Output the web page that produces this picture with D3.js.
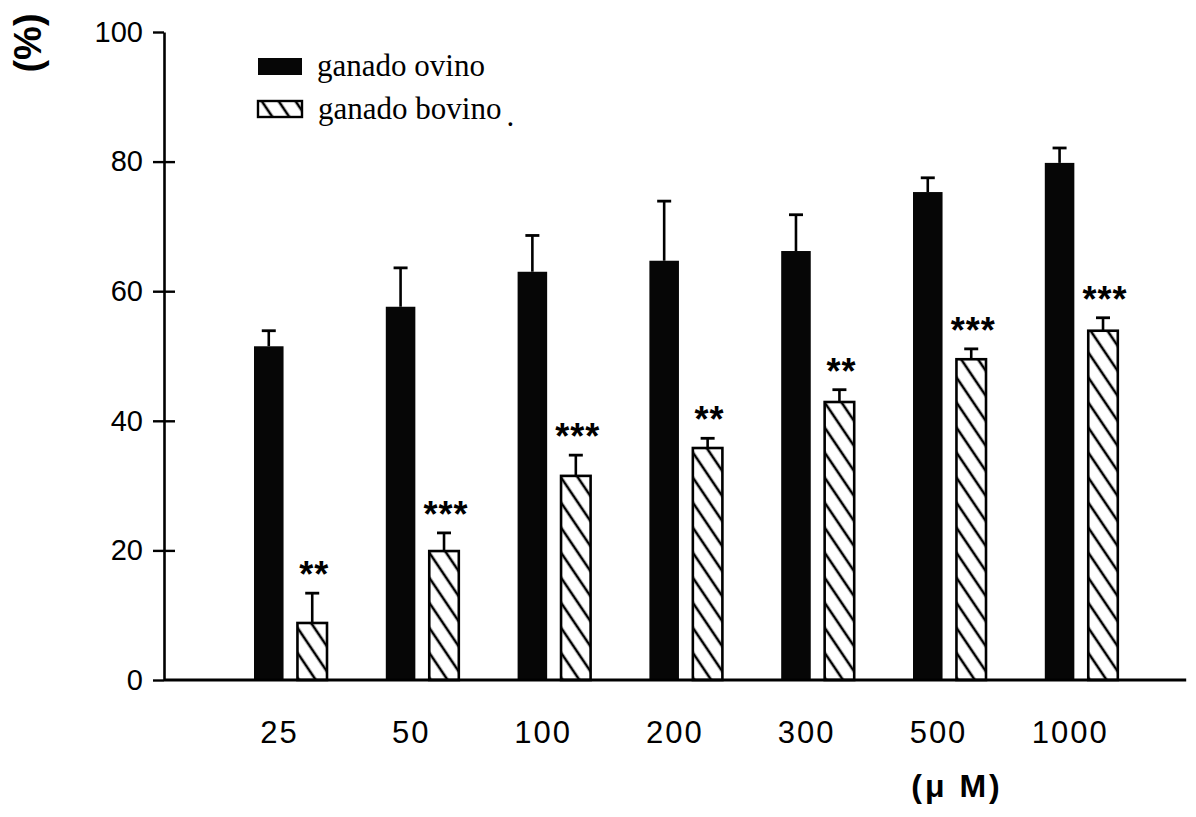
<!DOCTYPE html>
<html>
<head>
<meta charset="utf-8">
<script src="https://cdn.jsdelivr.net/npm/d3@7"></script>
<style>
  body { margin: 0; background: #fff; }
  svg { display: block; background: #fff; }
</style>
</head>
<body>
<svg id="chart" width="1196" height="817"></svg>
<script>
// Concentrations (µM) on the category axis
const concentrations = ["25", "50", "100", "200", "300", "500", "1000"];
// Mean response (%) and upper error for each series
const ovino = [51.5, 57.6, 63.0, 64.7, 66.2, 75.3, 79.8];
const ovinoErr = [2.4, 6.0, 5.6, 9.2, 5.6, 2.2, 2.3];
const bovino = [8.8, 19.9, 31.5, 35.8, 42.9, 49.5, 53.9];
const bovinoErr = [4.6, 2.8, 3.2, 1.5, 1.9, 1.6, 2.0];
// Significance marks above the bovine bars
const significance = ["**", "***", "***", "**", "**", "***", "***"];
const yTicks = [0, 20, 40, 60, 80, 100];
const seriesNames = ["ganado ovino", "ganado bovino"];

const svg = d3.select("#chart");
const axisX = 164;

const y = d3.scaleLinear().domain([0, 100]).range([680, 32]);
const x = d3.scaleBand().domain(concentrations).range([224.6, 1147.2]);
const inner = d3.scaleBand().domain(["ovino", "bovino"]).range([0, 73]).paddingInner(0.32);
const groupOffset = (x.bandwidth() - 73) / 2;

// hatch pattern for the bovine bars
const defs = svg.append("defs");
const pat = defs.append("pattern")
  .attr("id", "hatch")
  .attr("patternUnits", "userSpaceOnUse")
  .attr("width", 14).attr("height", 14)
  .attr("patternTransform", "rotate(-34)");
pat.append("rect").attr("width", 14).attr("height", 14).attr("fill", "#fff");
pat.append("line")
  .attr("x1", 7).attr("x2", 7).attr("y1", 0).attr("y2", 14)
  .attr("stroke", "#000").attr("stroke-width", 2.6);

const rows = concentrations.map((c, i) => ({
  c, ov: ovino[i], ovE: ovinoErr[i], bo: bovino[i], boE: bovinoErr[i], sig: significance[i]
}));

const groups = svg.append("g").selectAll("g")
  .data(rows).join("g")
  .attr("transform", d => `translate(${x(d.c) + groupOffset},0)`);

// sheep bars (solid)
groups.append("rect")
  .attr("x", inner("ovino"))
  .attr("width", inner.bandwidth())
  .attr("y", d => y(d.ov))
  .attr("height", d => y(0) - y(d.ov))
  .attr("fill", "#060606");

// cattle bars (hatched, outlined)
groups.append("rect")
  .attr("x", inner("bovino"))
  .attr("width", inner.bandwidth())
  .attr("y", d => y(d.bo))
  .attr("height", d => y(0) - y(d.bo))
  .attr("fill", "url(#hatch)")
  .attr("stroke", "#000")
  .attr("stroke-width", 2.6);

// error bars (upper whisker with cap)
function whisker(sel, key, val, err) {
  const cx = inner(key) + inner.bandwidth() / 2;
  sel.append("line")
    .attr("x1", cx).attr("x2", cx)
    .attr("y1", d => y(d[val]))
    .attr("y2", d => y(d[val] + d[err]))
    .attr("stroke", "#000").attr("stroke-width", 2.6);
  sel.append("line")
    .attr("x1", cx - 7).attr("x2", cx + 7)
    .attr("y1", d => y(d[val] + d[err]))
    .attr("y2", d => y(d[val] + d[err]))
    .attr("stroke", "#000").attr("stroke-width", 2.8);
}
whisker(groups, "ovino", "ov", "ovE");
whisker(groups, "bovino", "bo", "boE");

// significance asterisks
groups.append("text")
  .attr("x", inner("bovino") + inner.bandwidth() / 2 + 2)
  .attr("y", d => y(d.bo + d.boE) - 27 + 21)
  .attr("text-anchor", "middle")
  .attr("font-family", "Liberation Sans, Arial, sans-serif")
  .attr("font-weight", "bold")
  .attr("font-size", 36)
  .attr("letter-spacing", 1)
  .text(d => d.sig);

// y axis
const yAxis = svg.append("g")
  .attr("transform", `translate(${axisX},0)`)
  .call(d3.axisLeft(y).tickValues(yTicks).tickSize(11).tickSizeOuter(0).tickPadding(10));
yAxis.select(".domain").attr("stroke", "#000").attr("stroke-width", 2.6);
yAxis.selectAll(".tick line").attr("stroke", "#000").attr("stroke-width", 2.4);
yAxis.selectAll(".tick text")
  .attr("font-family", "Liberation Sans, Arial, sans-serif")
  .attr("font-size", 29)
  .attr("fill", "#000");
// inner half of the crossing ticks
yAxis.selectAll(".tick").filter(d => d > 0 && d < 100)
  .append("line")
  .attr("x1", 0).attr("x2", 11)
  .attr("stroke", "#000").attr("stroke-width", 2.4);

// baseline
svg.append("line")
  .attr("x1", axisX).attr("x2", x.range()[1] + 39)
  .attr("y1", y(0)).attr("y2", y(0))
  .attr("stroke", "#000").attr("stroke-width", 2.8);

// category labels
const xAxis = svg.append("g")
  .attr("transform", `translate(0,${y(0)})`)
  .call(d3.axisBottom(x).tickSize(0).tickPadding(41));
xAxis.select(".domain").remove();
xAxis.selectAll(".tick text")
  .attr("x", -11)
  .attr("font-family", "Liberation Sans, Arial, sans-serif")
  .attr("font-size", 31)
  .attr("letter-spacing", 2)
  .attr("fill", "#000");

// axis titles
svg.append("text")
  .attr("transform", "translate(28,43) rotate(-90)")
  .attr("text-anchor", "middle")
  .attr("dominant-baseline", "central")
  .attr("font-family", "Liberation Sans, Arial, sans-serif")
  .attr("font-weight", "bold")
  .attr("font-size", 38)
  .text("(%)");

svg.append("text")
  .attr("x", 957).attr("y", 797)
  .attr("text-anchor", "middle")
  .attr("font-family", "Liberation Sans, Arial, sans-serif")
  .attr("font-weight", "bold")
  .attr("font-size", 32)
  .attr("letter-spacing", 3)
  .style("white-space", "pre")
  .text("(μ M)");

// legend
const legend = svg.append("g").attr("transform", "translate(258,58)");
legend.append("rect")
  .attr("x", 0).attr("y", 0).attr("width", 44).attr("height", 17)
  .attr("fill", "#060606");
legend.append("rect")
  .attr("x", 0).attr("y", 43).attr("width", 44).attr("height", 16)
  .attr("fill", "url(#hatch)")
  .attr("stroke", "#000").attr("stroke-width", 2.4);
legend.append("text")
  .attr("x", 59).attr("y", 18)
  .attr("font-family", "Liberation Serif, Times New Roman, serif")
  .attr("font-size", 31)
  .text(seriesNames[0]);
const lt = legend.append("text")
  .attr("x", 60).attr("y", 61)
  .attr("font-family", "Liberation Serif, Times New Roman, serif")
  .attr("font-size", 31)
  .text(seriesNames[1]);
lt.append("tspan").attr("dx", 5).attr("dy", 7).text(".");
</script>
</body>
</html>
